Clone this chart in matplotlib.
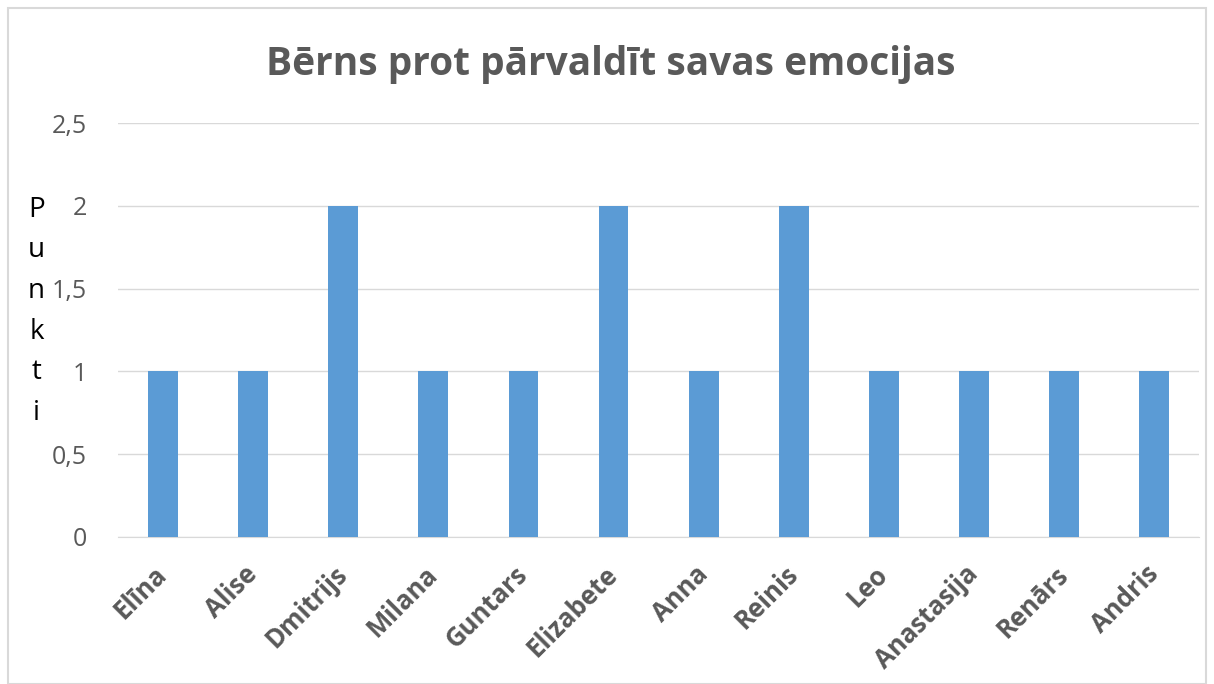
import matplotlib
matplotlib.use("Agg")
import matplotlib.pyplot as plt
from matplotlib.ticker import FuncFormatter, MultipleLocator
from matplotlib.patches import Rectangle
import numpy as np

# dati del grafico
vardi = ['Elīna', 'Alise', 'Dmitrijs', 'Milana', 'Guntars', 'Elizabete',
         'Anna', 'Reinis', 'Leo', 'Anastasija', 'Renārs', 'Andris']
punkti = [1, 1, 2, 1, 1, 2, 1, 2, 1, 1, 1, 1]
virsraksts = 'Bērns prot pārvaldīt savas emocijas'
ass_nosaukums = 'Punkti'

pelecs = '#595959'
zils = '#5b9bd5'

fig = plt.figure(figsize=(12.14, 6.84), dpi=100)
ax = fig.add_axes([0.097, 0.215, 0.891, 0.605])

x = np.arange(len(vardi))
ax.bar(x, punkti, width=0.33, color=zils, zorder=3)

ax.set_xlim(-0.5, len(vardi) - 0.5)
ax.set_ylim(0, 2.5)
ax.yaxis.set_major_locator(MultipleLocator(0.5))
ax.yaxis.set_major_formatter(FuncFormatter(lambda v, p: ('%g' % v).replace('.', ',')))
ax.grid(axis='y', color='#d9d9d9', linewidth=1, zorder=0)
for s in ['top', 'right', 'left']:
    ax.spines[s].set_visible(False)
ax.spines['bottom'].set_color('#d9d9d9')

ax.tick_params(axis='y', length=0, pad=22, labelsize=18, labelcolor=pelecs)
ax.tick_params(axis='x', length=0, pad=24)
ax.set_xticks(x)
ax.set_xticklabels(vardi, rotation=45, ha='right', va='center', rotation_mode='anchor',
                   fontsize=18.5, fontweight='bold', color=pelecs, family='Open Sans')
for t in ax.get_yticklabels():
    t.set_family('Open Sans')

fig.text(0.503, 0.905, virsraksts, ha='center', va='center', fontsize=28,
         fontweight='bold', color=pelecs, family='Open Sans')

# vertikāli sakrauti burti
fig.text(0.030, 0.545, '\n'.join(ass_nosaukums), ha='center', va='center',
         fontsize=20, color='black', linespacing=1.6, family='Open Sans')

# rāmis ap attēlu
fig.patches.append(Rectangle((0.007, 0.0), 0.986, 0.988, transform=fig.transFigure,
                             fill=False, edgecolor='#d9d9d9', linewidth=1.5))

fig.savefig('out.png', dpi=100, facecolor='white')
